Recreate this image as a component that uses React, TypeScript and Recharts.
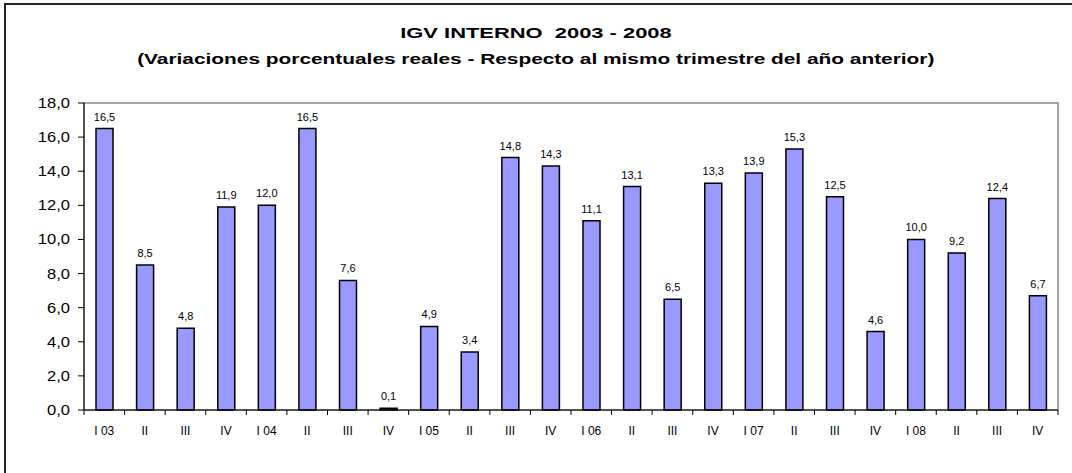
import { Bar, BarChart, LabelList, ReferenceArea, XAxis, YAxis } from 'recharts';

const quarters = [
  'I 03', 'II', 'III', 'IV',
  'I 04', 'II', 'III', 'IV',
  'I 05', 'II', 'III', 'IV',
  'I 06', 'II', 'III', 'IV',
  'I 07', 'II', 'III', 'IV',
  'I 08', 'II', 'III', 'IV'
];
const igvGrowth = [
  16.5, 8.5, 4.8, 11.9,
  12.0, 16.5, 7.6, 0.1,
  4.9, 3.4, 14.8, 14.3,
  11.1, 13.1, 6.5, 13.3,
  13.9, 15.3, 12.5, 4.6,
  10.0, 9.2, 12.4, 6.7
];
const yTicks = [0, 2, 4, 6, 8, 10, 12, 14, 16, 18];

const data = quarters.map((q, i) => ({ q, v: igvGrowth[i] }));

const font = '"Liberation Sans", Arial, sans-serif';
const fmt = (v: number) => Number(v).toFixed(1).replace('.', ',');

const W = 1072;
const H = 473;
const M = { top: 103, right: 14, bottom: 33, left: 0 };
const Y_W = 84;
const band = (W - M.right - Y_W) / quarters.length;

function QuarterTick(props: any) {
  const { x, y, payload, index } = props;
  const left = x - band / 2;
  return (
    <g>
      <line x1={left} y1={y} x2={left} y2={y + 5} stroke="#000" strokeWidth={1} />
      {index === quarters.length - 1 && (
        <line x1={left + band} y1={y} x2={left + band} y2={y + 5} stroke="#000" strokeWidth={1} />
      )}
      <text x={x} y={y + 25} textAnchor="middle" fontSize={12} fontFamily={font} fill="#000">
        {payload.value}
      </text>
    </g>
  );
}

function ValueTick(props: any) {
  const { x, y, payload } = props;
  return (
    <text
      transform={`translate(${x},${y}) scale(1.18,1)`}
      x={0}
      y={5}
      textAnchor="end"
      fontSize={14}
      fontFamily={font}
      fill="#000"
    >
      {fmt(payload.value)}
    </text>
  );
}

const titleStyle = {
  position: 'absolute' as const,
  left: 0,
  width: W,
  textAlign: 'center' as const,
  fontFamily: font,
  fontWeight: 'bold' as const,
  whiteSpace: 'pre' as const
};

export default function App() {
  return (
    <div style={{ position: 'absolute', left: 0, top: 0, width: W, height: H, overflow: 'hidden', background: '#fff' }}>
      <div
        style={{
          position: 'absolute',
          left: 4,
          top: 3,
          width: W + 20,
          height: H + 20,
          borderLeft: '2px solid #222',
          borderTop: '2px solid #222'
        }}
      />
      <div style={{ ...titleStyle, top: 24, fontSize: 15 }}>
        <span style={{ display: 'inline-block', transform: 'scaleX(1.46)' }}>{'IGV INTERNO  2003 - 2008'}</span>
      </div>
      <div style={{ ...titleStyle, top: 50, fontSize: 15 }}>
        <span style={{ display: 'inline-block', transform: 'scaleX(1.39)' }}>
          (Variaciones porcentuales reales - Respecto al mismo trimestre del año anterior)
        </span>
      </div>
      <div style={{ position: 'absolute', left: 0, top: 0 }}>
        <BarChart width={W} height={H} data={data} margin={M} barSize={17}>
          <ReferenceArea y1={0} y2={18} fill="none" stroke="#888" strokeWidth={1.5} />
          <XAxis
            dataKey="q"
            interval={0}
            tickLine={false}
            tickSize={0}
            tickMargin={0}
            height={30}
            axisLine={{ stroke: '#000', strokeWidth: 1 }}
            tick={<QuarterTick />}
          />
          <YAxis
            width={Y_W}
            domain={[0, 18]}
            ticks={yTicks}
            tickSize={6}
            tickMargin={8}
            axisLine={{ stroke: '#000' }}
            tickLine={{ stroke: '#000' }}
            tick={<ValueTick />}
          />
          <Bar dataKey="v" fill="#9999FF" stroke="#000" strokeWidth={1.5} isAnimationActive={false}>
            <LabelList
              dataKey="v"
              position="top"
              offset={8}
              formatter={(v: any) => fmt(v)}
              style={{ fontSize: 11, fontFamily: font, fill: '#000' }}
            />
          </Bar>
        </BarChart>
      </div>
    </div>
  );
}
